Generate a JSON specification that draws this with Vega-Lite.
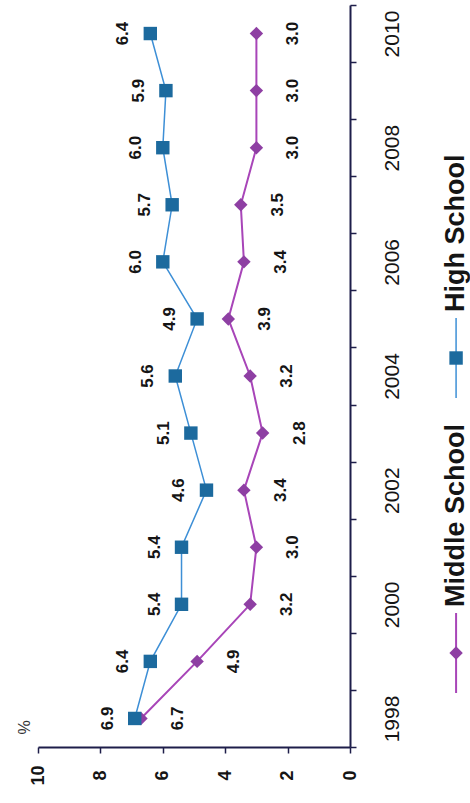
{
  "$schema": "https://vega.github.io/schema/vega-lite/v6.json",
  "width": 312,
  "height": 742,
  "autosize": {"type": "none"},
  "padding": {"left": 38, "top": 5, "right": 120, "bottom": 56},
  "background": "white",
  "config": {"view": {"stroke": null}, "font": "Liberation Sans"},
  "datasets": {
    "rates": [
      {"series": "Middle School", "year": 1998, "pct": 6.7},
      {"series": "Middle School", "year": 1999, "pct": 4.9},
      {"series": "Middle School", "year": 2000, "pct": 3.2},
      {"series": "Middle School", "year": 2001, "pct": 3.0},
      {"series": "Middle School", "year": 2002, "pct": 3.4},
      {"series": "Middle School", "year": 2003, "pct": 2.8},
      {"series": "Middle School", "year": 2004, "pct": 3.2},
      {"series": "Middle School", "year": 2005, "pct": 3.9},
      {"series": "Middle School", "year": 2006, "pct": 3.4},
      {"series": "Middle School", "year": 2007, "pct": 3.5},
      {"series": "Middle School", "year": 2008, "pct": 3.0},
      {"series": "Middle School", "year": 2009, "pct": 3.0},
      {"series": "Middle School", "year": 2010, "pct": 3.0},
      {"series": "High School", "year": 1998, "pct": 6.9},
      {"series": "High School", "year": 1999, "pct": 6.4},
      {"series": "High School", "year": 2000, "pct": 5.4},
      {"series": "High School", "year": 2001, "pct": 5.4},
      {"series": "High School", "year": 2002, "pct": 4.6},
      {"series": "High School", "year": 2003, "pct": 5.1},
      {"series": "High School", "year": 2004, "pct": 5.6},
      {"series": "High School", "year": 2005, "pct": 4.9},
      {"series": "High School", "year": 2006, "pct": 6.0},
      {"series": "High School", "year": 2007, "pct": 5.7},
      {"series": "High School", "year": 2008, "pct": 6.0},
      {"series": "High School", "year": 2009, "pct": 5.9},
      {"series": "High School", "year": 2010, "pct": 6.4}
    ],
    "keys": [
      {"series": "High School"},
      {"series": "Middle School"}
    ]
  },
  "layer": [
    {
      "data": {"name": "rates"},
      "encoding": {
        "y": {
          "field": "year",
          "type": "quantitative",
          "scale": {"domain": [1997.5, 2010.5], "nice": false, "zero": false},
          "axis": {
            "orient": "right",
            "title": null,
            "grid": false,
            "values": [1997.5, 1998, 1998.5, 1999, 1999.5, 2000, 2000.5, 2001, 2001.5, 2002, 2002.5, 2003, 2003.5, 2004, 2004.5, 2005, 2005.5, 2006, 2006.5, 2007, 2007.5, 2008, 2008.5, 2009, 2009.5, 2010, 2010.5],
            "labelExpr": "datum.value % 2 === 0 ? '' + datum.value : ''",
            "domainColor": "#1e1e4a",
            "domainWidth": 2,
            "tickColor": "#1e1e4a",
            "tickWidth": 1.5,
            "tickSize": 6,
            "tickOpacity": {"condition": {"test": "datum.value % 1 === 0", "value": 0}, "value": 1},
            "labelAngle": 270,
            "labelAlign": "center",
            "labelBaseline": "middle",
            "labelPadding": 36,
            "labelFontSize": 21,
            "labelColor": "#151515",
            "labelOverlap": false,
            "labelFlush": false
          }
        },
        "x": {
          "field": "pct",
          "type": "quantitative",
          "scale": {"domain": [0, 10], "reverse": true, "nice": false},
          "axis": {
            "orient": "bottom",
            "values": [0, 2, 4, 6, 8, 10],
            "grid": false,
            "title": "%",
            "titleAngle": 270,
            "titleX": -14,
            "titleY": -20,
            "titleAlign": "center",
            "titleBaseline": "middle",
            "titleFontSize": 16,
            "titleFontWeight": "normal",
            "titleColor": "#333333",
            "domainColor": "#1e1e4a",
            "domainWidth": 2,
            "tickColor": "#1e1e4a",
            "tickWidth": 1.5,
            "tickSize": 6,
            "labelAngle": 270,
            "labelAlign": "center",
            "labelBaseline": "middle",
            "labelPadding": 22,
            "labelFontSize": 18,
            "labelFontWeight": "bold",
            "labelColor": "#151515",
            "labelOverlap": false,
            "labelFlush": false
          }
        }
      },
      "layer": [
        {
          "mark": {"type": "line"},
          "encoding": {
            "order": {"field": "year"},
            "stroke": {
              "field": "series",
              "type": "nominal",
              "scale": {"domain": ["High School", "Middle School"], "range": ["#3d8fd6", "#a845b8"]},
              "legend": null
            },
            "strokeWidth": {
              "field": "series",
              "type": "nominal",
              "scale": {"domain": ["High School", "Middle School"], "range": [1.5, 2]},
              "legend": null
            }
          }
        },
        {
          "mark": {"type": "point", "filled": true, "opacity": 1, "size": 180},
          "encoding": {
            "shape": {
              "field": "series",
              "type": "nominal",
              "scale": {"domain": ["High School", "Middle School"], "range": ["square", "diamond"]},
              "legend": null
            },
            "fill": {
              "field": "series",
              "type": "nominal",
              "scale": {"domain": ["High School", "Middle School"], "range": ["#1c6a9e", "#8e3fa3"]},
              "legend": null
            }
          }
        },
        {
          "transform": [{"filter": "datum.series === 'High School'"}],
          "mark": {"type": "text", "angle": 270, "align": "center", "baseline": "middle", "dy": -27, "fontSize": 17, "fontWeight": "bold", "color": "#151515"},
          "encoding": {"text": {"field": "pct", "type": "quantitative", "format": ".1f"}}
        },
        {
          "transform": [{"filter": "datum.series === 'Middle School'"}],
          "mark": {"type": "text", "angle": 270, "align": "center", "baseline": "middle", "dy": 37, "fontSize": 17, "fontWeight": "bold", "color": "#151515"},
          "encoding": {"text": {"field": "pct", "type": "quantitative", "format": ".1f"}}
        }
      ]
    },
    {
      "data": {"name": "keys"},
      "encoding": {
        "y": {
          "field": "series",
          "type": "nominal",
          "scale": {"type": "point", "domain": ["High School", "Middle School"], "range": [353, 648], "padding": 0},
          "axis": null
        },
        "x": {
          "datum": -3.4,
          "type": "quantitative",
          "scale": {"domain": [0, 10], "reverse": true, "nice": false},
          "axis": null
        }
      },
      "layer": [
        {
          "mark": {"type": "rule", "yOffset": -40, "y2Offset": 40},
          "encoding": {
            "y2": {"field": "series"},
            "stroke": {
              "field": "series",
              "type": "nominal",
              "scale": {"domain": ["High School", "Middle School"], "range": ["#3d8fd6", "#a845b8"]},
              "legend": null
            },
            "strokeWidth": {
              "field": "series",
              "type": "nominal",
              "scale": {"domain": ["High School", "Middle School"], "range": [1.5, 2]},
              "legend": null
            }
          }
        },
        {
          "mark": {"type": "point", "filled": true, "opacity": 1, "size": 180},
          "encoding": {
            "shape": {
              "field": "series",
              "type": "nominal",
              "scale": {"domain": ["High School", "Middle School"], "range": ["square", "diamond"]},
              "legend": null
            },
            "fill": {
              "field": "series",
              "type": "nominal",
              "scale": {"domain": ["High School", "Middle School"], "range": ["#1c6a9e", "#8e3fa3"]},
              "legend": null
            }
          }
        },
        {
          "mark": {"type": "text", "angle": 270, "align": "left", "baseline": "middle", "dx": 46, "fontSize": 27, "fontWeight": "bold", "color": "#151515"},
          "encoding": {"text": {"field": "series", "type": "nominal"}}
        }
      ]
    }
  ],
  "resolve": {"scale": {"y": "independent", "x": "independent"}}
}
